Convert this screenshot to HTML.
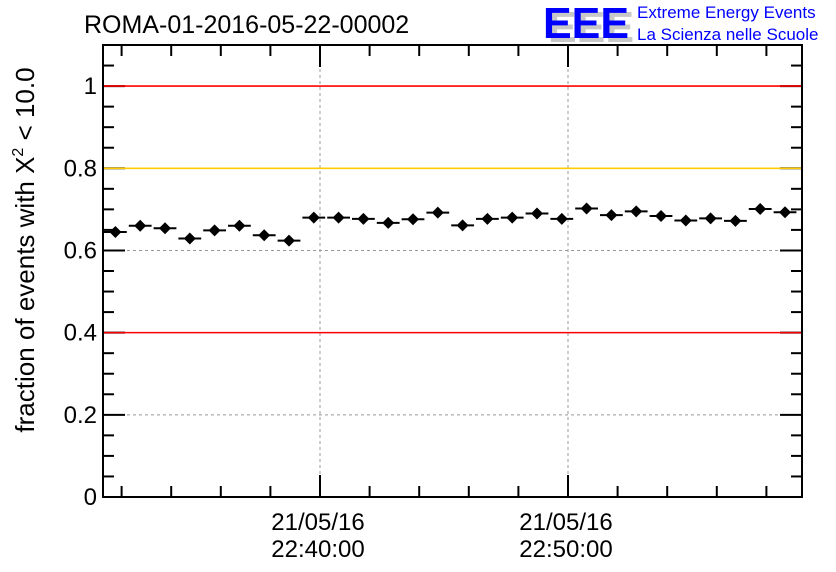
<!DOCTYPE html>
<html><head><meta charset="utf-8"><style>
html,body{margin:0;padding:0;background:#fff;}
svg{display:block;font-family:"Liberation Sans",Arial,sans-serif;}
</style></head><body>
<svg id="chart" width="836" height="572" viewBox="0 0 836 572">
<text x="84" y="33" font-size="25" fill="#000">ROMA-01-2016-05-22-00002</text>
<g>
<text x="548" y="42" font-size="44" font-weight="bold" fill="#c8c8c8" textLength="86" lengthAdjust="spacingAndGlyphs">EEE</text>
<text x="543" y="38" font-size="44" font-weight="bold" fill="#0000ff" textLength="86" lengthAdjust="spacingAndGlyphs">EEE</text>
<text x="637" y="18" font-size="17" fill="#0000ff">Extreme Energy Events</text>
<text x="637" y="40" font-size="17" fill="#0000ff">La Scienza nelle Scuole</text>
</g>
<text transform="translate(34,250) rotate(-90)" text-anchor="middle" font-size="26" fill="#000">fraction of events with X<tspan dy="-11" font-size="16">2</tspan><tspan dy="11"> &lt; 10.0</tspan></text>
<g id="plot"></g>
</svg>
<script>
const values=[0.645,0.660,0.654,0.629,0.649,0.660,0.637,0.624,0.680,0.680,0.677,0.667,0.676,0.692,0.661,0.677,0.680,0.690,0.677,0.702,0.686,0.695,0.684,0.673,0.678,0.672,0.701,0.693];
const yTicks=[0,0.2,0.4,0.6,0.8,1];
const yTickLabels=["0","0.2","0.4","0.6","0.8","1"];
const xMajorTimes=[8.75,18.75];
const xTickLabels=[["21/05/16","22:40:00"],["21/05/16","22:50:00"]];
const refLines=[[0.4,"#ff0000"],[0.8,"#ffcc00"],[1.0,"#ff0000"]];

const L=103,R=802,T=45,B=497;
const yMin=0,yMax=1.1,tMax=(R-L)/24.8;
const ys=v=>B-(v-yMin)/(yMax-yMin)*(B-T);
const xs=t=>L+t/tMax*(R-L);
const g=document.getElementById('plot');
const NS='http://www.w3.org/2000/svg';
function mk(tag,attrs,name){const e=document.createElementNS(NS,tag);for(const k in attrs)e.setAttribute(k,attrs[k]);


g.appendChild(e);return e;}
yTicks.forEach(v=>{if(v>0&&!refLines.some(r=>Math.abs(r[0]-v)<1e-9))mk('line',{x1:L,x2:R,y1:ys(v),y2:ys(v),stroke:'#999','stroke-dasharray':'3,3'},'y-grid-line');});
xMajorTimes.forEach(t=>mk('line',{x1:xs(t),x2:xs(t),y1:T,y2:B,stroke:'#999','stroke-dasharray':'3,3'},'x-grid-line'));
for(let v=0;v<=1.1001;v+=0.05){const major=Math.abs(v/0.2-Math.round(v/0.2))<1e-6;const len=major?22:11;
mk('line',{x1:L,x2:L+len,y1:ys(v),y2:ys(v),stroke:'#000','stroke-width':2},'y-tick');
mk('line',{x1:R,x2:R-len,y1:ys(v),y2:ys(v),stroke:'#000','stroke-width':2},'y-tick-right');}
refLines.forEach(r=>mk('line',{x1:L,x2:R,y1:ys(r[0]),y2:ys(r[0]),stroke:r[1],'stroke-width':1.6},'reference-line'));
mk('rect',{x:L,y:T,width:R-L,height:B-T,fill:'none',stroke:'#000','stroke-width':2},'plot-frame');
yTicks.forEach((v,i)=>{const t=mk('text',{x:L-6,y:ys(v)+8,'text-anchor':'end','font-size':24},'y-tick-label');t.textContent=yTickLabels[i];});
for(let t=xMajorTimes[0]-8;t<=tMax;t+=2){const major=xMajorTimes.some(m=>Math.abs(m-t)<1e-6);const len=major?22:11;if(t<0)continue;
mk('line',{x1:xs(t),x2:xs(t),y1:B,y2:B-len,stroke:'#000','stroke-width':2},'x-tick');
mk('line',{x1:xs(t),x2:xs(t),y1:T,y2:T+len,stroke:'#000','stroke-width':2},'x-tick-top');}
xMajorTimes.forEach((t,i)=>{xTickLabels[i].forEach((s,j)=>{const e=mk('text',{x:xs(t)-2,y:530+j*27,'text-anchor':'middle','font-size':24},'x-tick-label');e.textContent=s;});});
values.forEach((v,i)=>{const cx=xs(i+0.5),cy=ys(v);
mk('line',{x1:xs(i)+1,x2:xs(i+1)-1,y1:cy,y2:cy,stroke:'#000','stroke-width':2},'bin-bar');
mk('path',{d:`M${cx},${cy-6}L${cx+6},${cy}L${cx},${cy+6}L${cx-6},${cy}Z`,fill:'#000'},'data-point');});
</script>
</body></html>
